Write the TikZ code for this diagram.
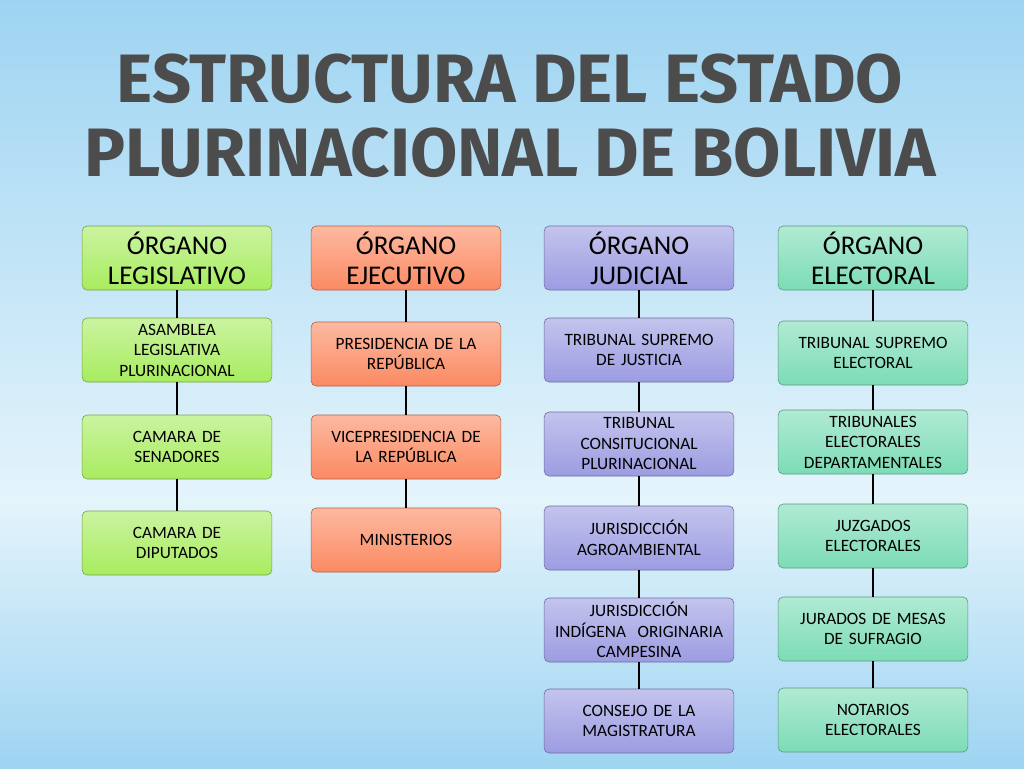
\documentclass[tikz,border=0pt]{standalone}
\usepackage{fontspec}
\setmainfont{Carlito}
\newfontfamily\titlefont{Fira Sans}
\begin{document}
\begin{tikzpicture}[x=1pt,y=-1pt,
 box/.style={rounded corners=5pt,minimum width=185pt,minimum height=64pt,align=center,text width=183pt,font=\fontsize{17.3}{20.5}\selectfont,draw=#1!70!black,line width=0.6pt,top color=#1!60!white,bottom color=#1},
 head/.style={box=#1,font=\fontsize{27}{30}\selectfont},
 link/.style={line width=2pt,black}]
\definecolor{bgA}{HTML}{9ED4F2}\definecolor{bgB}{HTML}{E4F4FB}
\fill[top color=bgA,bottom color=bgB] (0,0) rectangle (1024,500);
\fill[top color=bgB,bottom color=bgA] (0,500) rectangle (1024,768);
\useasboundingbox (0,0) rectangle (1024,768);
\definecolor{gr}{HTML}{A8EC60}\definecolor{orr}{HTML}{FB8A62}\definecolor{pu}{HTML}{9C9CE2}\definecolor{te}{HTML}{7CDCB6}
\node[font=\titlefont\bfseries\fontsize{68.5}{74}\selectfont,text=black!70,align=center] (title) at (510,116) {ESTRUCTURA DEL ESTADO\\PLURINACIONAL DE BOLIVIA};
% col 1
\node[head=gr] (a0) at (177,258) {ÓRGANO\\LEGISLATIVO};
\node[box=gr] (a1) at (177,350) {ASAMBLEA\\LEGISLATIVA\\PLURINACIONAL};
\node[box=gr] (a2) at (177,447) {CAMARA DE\\SENADORES};
\node[box=gr] (a3) at (177,543) {CAMARA DE\\DIPUTADOS};
% col 2
\node[head=orr] (b0) at (406,258) {ÓRGANO\\EJECUTIVO};
\node[box=orr] (b1) at (406,354) {PRESIDENCIA DE LA\\REPÚBLICA};
\node[box=orr] (b2) at (406,447) {VICEPRESIDENCIA DE\\LA REPÚBLICA};
\node[box=orr] (b3) at (406,540) {MINISTERIOS};
% col 3
\node[head=pu] (c0) at (639,258) {ÓRGANO\\JUDICIAL};
\node[box=pu] (c1) at (639,350) {TRIBUNAL SUPREMO\\DE JUSTICIA};
\node[box=pu] (c2) at (639,444) {TRIBUNAL\\CONSITUCIONAL\\PLURINACIONAL};
\node[box=pu] (c3) at (639,538) {JURISDICCIÓN\\AGROAMBIENTAL};
\node[box=pu] (c4) at (639,630) {JURISDICCIÓN\\INDÍGENA\ \ ORIGINARIA\\CAMPESINA};
\node[box=pu] (c5) at (639,721) {CONSEJO DE LA\\MAGISTRATURA};
% col 4
\node[head=te] (d0) at (873,258) {ÓRGANO\\ELECTORAL};
\node[box=te] (d1) at (873,353) {TRIBUNAL SUPREMO\\ELECTORAL};
\node[box=te] (d2) at (873,442) {TRIBUNALES\\ELECTORALES\\DEPARTAMENTALES};
\node[box=te] (d3) at (873,536) {JUZGADOS\\ELECTORALES};
\node[box=te] (d4) at (873,629) {JURADOS DE MESAS\\DE SUFRAGIO};
\node[box=te] (d5) at (873,720) {NOTARIOS\\ELECTORALES};
\foreach \p in {a,b}{\foreach \i/\j in {0/1,1/2,2/3}{\draw[link] (\p\i.south)--(\p\j.north);}}
\foreach \p in {c,d}{\foreach \i/\j in {0/1,1/2,2/3,3/4,4/5}{\draw[link] (\p\i.south)--(\p\j.north);}}
\end{tikzpicture}
\end{document}
